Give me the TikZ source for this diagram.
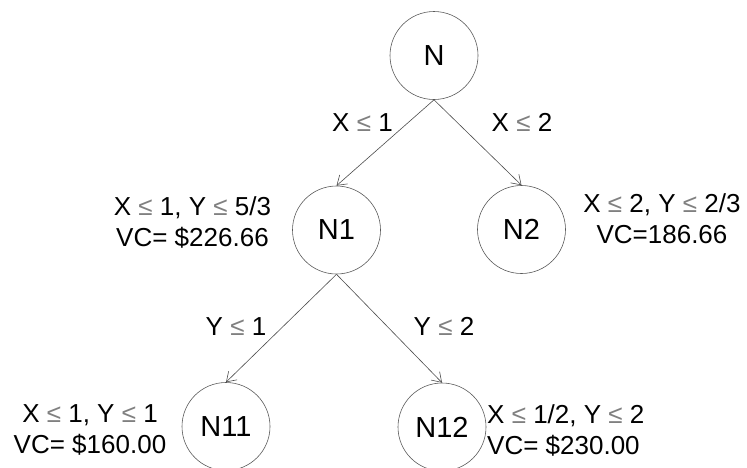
\documentclass[tikz,border=0pt]{standalone}
\usepackage{fontspec}
\setmainfont{Liberation Sans}
\usepackage{xcolor}
\usepackage{tikz}
\usetikzlibrary{arrows.meta}

\newcommand{\lessign}{\textcolor{black!50}{≤}}

\begin{document}
\begin{tikzpicture}[x=1pt, y=-1pt,
    every node/.style={font=\fontsize{26pt}{31pt}\selectfont},
    treenode/.style={circle, draw=black!65, line width=0.6pt, minimum size=88pt, inner sep=0pt,
                     font=\fontsize{29pt}{31pt}\selectfont},
    branch/.style={-{Straight Barb[length=9pt, width=12pt]}, draw=black!70, line width=0.6pt},
    infotext/.style={align=center, inner sep=0pt}]
  \useasboundingbox (0,0) rectangle (747,467);
  \clip (0,0) rectangle (747,467);

  % Tree nodes
  \node[treenode] (n)   at (434, 55.5)  {N};
  \node[treenode] (n1)  at (336.5, 230) {N1};
  \node[treenode] (n2)  at (521.5, 229.5) {N2};
  \node[treenode] (n11) at (226, 426.5) {N11};
  \node[treenode] (n12) at (442, 427)   {N12};

  % Branches
  \draw[branch] (n.south) -- (n1.north);
  \draw[branch] (n.south) -- (n2.north);
  \draw[branch] (n1.south) -- (n11.north);
  \draw[branch] (n1.south) -- (n12.north);

  % Branch conditions
  \node[anchor=base, inner sep=0pt] (c1)  at (362.5, 131.5) {X \lessign{} 1};
  \node[anchor=base, inner sep=0pt] (c2)  at (522, 131.5)   {X \lessign{} 2};
  \node[anchor=base, inner sep=0pt] (c11) at (236, 335)     {Y \lessign{} 1};
  \node[anchor=base, inner sep=0pt] (c12) at (444, 335)     {Y \lessign{} 2};

  % Region and value of each node
  \node[infotext] (v1)  at (192.5, 222) {X \lessign{} 1, Y \lessign{} 5/3\\VC= \$226.66};
  \node[infotext] (v2)  at (662, 219)   {X \lessign{} 2, Y \lessign{} 2/3\\VC=186.66};
  \node[infotext] (v11) at (90, 430)    {X \lessign{} 1, Y \lessign{} 1\\VC= \$160.00};
  \node[infotext, align=left, anchor=west] (v12) at (487, 430) {X \lessign{} 1/2, Y \lessign{} 2\\VC= \$230.00};
\end{tikzpicture}
\end{document}
